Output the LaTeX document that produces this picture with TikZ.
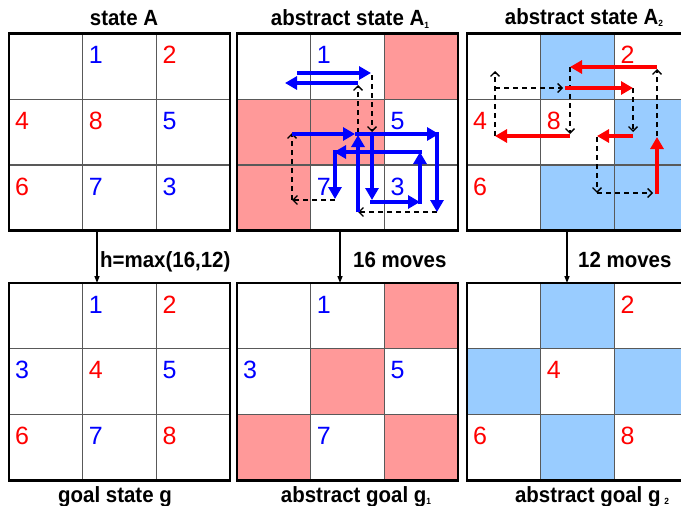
\documentclass[tikz,border=0pt]{standalone}
\usepackage{fontspec}
\setmainfont{Liberation Sans}
\newfontfamily\captionfont{Liberation Sans}[FakeStretch=0.93]
\usetikzlibrary{arrows.meta}

\definecolor{tilered}{RGB}{255,0,0}
\definecolor{tileblue}{RGB}{0,0,255}
\definecolor{pinkcell}{RGB}{255,153,153}
\definecolor{bluecell}{RGB}{153,204,255}

\tikzset{
  gridline/.style={draw=black!65,line width=1.2pt},
  gridframe/.style={draw=black,line width=2.8pt},
  tile/.style={anchor=base west,inner sep=0pt,font=\fontsize{25}{25}\selectfont},
  caption/.style={anchor=base,inner sep=0pt,font=\captionfont\bfseries\fontsize{22}{22}\selectfont},
  bluemove/.style={draw=tileblue,line width=4pt,-{Triangle[length=12pt,width=13pt]}},
  redmove/.style={draw=tilered,line width=4pt,-{Triangle[length=12pt,width=13pt]}},
  blankmove/.style={draw=black,line width=1.3pt,dash pattern=on 5pt off 4pt,-{Straight Barb[length=4.5pt,width=9pt]}},
  mapsto/.style={draw=black,line width=1.3pt,-{Triangle[length=7pt,width=5pt]}}
}

\newcommand{\smallsub}[1]{\raisebox{-2pt}{\fontsize{9}{9}\selectfont #1}}

\begin{document}
\begin{tikzpicture}[x=1pt,y=-1pt]
        \useasboundingbox (0,0) rectangle (681,506);
        \clip (0,0) rectangle (681,506);

        % state A
        \begin{scope}[shift={(9,33.5)}]
          \draw[gridline] (73.7,0) -- (73.7,197.3) (147.3,0) -- (147.3,197.3)
                          (0,65.8) -- (221,65.8) (0,131.5) -- (221,131.5);
          \draw[gridframe] (0,0) rectangle (221,197.3);
          \begin{scope}[every node/.style={tile}]
            \node[tileblue] (s1) at (79.7,30)   {1};
            \node[tilered]  (s2) at (153.3,30)  {2};
            \node[tilered]  (s4) at (6,95.8)    {4};
            \node[tilered]  (s8) at (79.7,95.8) {8};
            \node[tileblue] (s5) at (153.3,95.8) {5};
            \node[tilered]  (s6) at (6,161.6)   {6};
            \node[tileblue] (s7) at (79.7,161.6) {7};
            \node[tileblue] (s3) at (153.3,161.6) {3};
          \end{scope}
        \end{scope}

        % goal state g
        \begin{scope}[shift={(9,283)}]
          \draw[gridline] (73.7,0) -- (73.7,197.3) (147.3,0) -- (147.3,197.3)
                          (0,65.8) -- (221,65.8) (0,131.5) -- (221,131.5);
          \draw[gridframe] (0,0) rectangle (221,197.3);
          \begin{scope}[every node/.style={tile}]
            \node[tileblue] (g1) at (79.7,30)   {1};
            \node[tilered]  (g2) at (153.3,30)  {2};
            \node[tileblue] (g3) at (6,95.8)    {3};
            \node[tilered]  (g4) at (79.7,95.8) {4};
            \node[tileblue] (g5) at (153.3,95.8) {5};
            \node[tilered]  (g6) at (6,161.6)   {6};
            \node[tileblue] (g7) at (79.7,161.6) {7};
            \node[tilered]  (g8) at (153.3,161.6) {8};
          \end{scope}
        \end{scope}

        % abstract state A1
        \begin{scope}[shift={(237,33.5)}]
          \fill[pinkcell] (147.3,0) rectangle (221,65.8);
          \fill[pinkcell] (0,65.8) rectangle (147.3,131.5);
          \fill[pinkcell] (0,131.5) rectangle (73.7,197.3);
          \draw[gridline] (73.7,0) -- (73.7,197.3) (147.3,0) -- (147.3,197.3)
                          (0,65.8) -- (221,65.8) (0,131.5) -- (221,131.5);
          \draw[gridframe] (0,0) rectangle (221,197.3);
          \begin{scope}[every node/.style={tile,tileblue}]
            \node (a1) at (79.7,30)    {1};
            \node (a5) at (153.3,95.8) {5};
            \node (a7) at (79.7,161.6) {7};
            \node (a3) at (153.3,161.6) {3};
          \end{scope}
        \end{scope}

        % abstract goal g1
        \begin{scope}[shift={(237,283)}]
          \fill[pinkcell] (147.3,0) rectangle (221,65.8);
          \fill[pinkcell] (73.7,65.8) rectangle (147.3,131.5);
          \fill[pinkcell] (0,131.5) rectangle (73.7,197.3);
          \fill[pinkcell] (147.3,131.5) rectangle (221,197.3);
          \draw[gridline] (73.7,0) -- (73.7,197.3) (147.3,0) -- (147.3,197.3)
                          (0,65.8) -- (221,65.8) (0,131.5) -- (221,131.5);
          \draw[gridframe] (0,0) rectangle (221,197.3);
          \begin{scope}[every node/.style={tile,tileblue}]
            \node (b1) at (79.7,30)    {1};
            \node (b3) at (6,95.8)     {3};
            \node (b5) at (153.3,95.8) {5};
            \node (b7) at (79.7,161.6) {7};
          \end{scope}
        \end{scope}

        % abstract state A2
        \begin{scope}[shift={(467,33.5)}]
          \fill[bluecell] (73.7,0) rectangle (147.3,65.8);
          \fill[bluecell] (147.3,65.8) rectangle (221,131.5);
          \fill[bluecell] (73.7,131.5) rectangle (221,197.3);
          \draw[gridline] (73.7,0) -- (73.7,197.3) (147.3,0) -- (147.3,197.3)
                          (0,65.8) -- (221,65.8) (0,131.5) -- (221,131.5);
          \draw[gridframe] (0,0) rectangle (221,197.3);
          \begin{scope}[every node/.style={tile,tilered}]
            \node (c2) at (153.3,30)   {2};
            \node (c4) at (6,95.8)     {4};
            \node (c8) at (79.7,95.8)  {8};
            \node (c6) at (6,161.6)    {6};
          \end{scope}
        \end{scope}

        % abstract goal g2
        \begin{scope}[shift={(467,283)}]
          \fill[bluecell] (73.7,0) rectangle (147.3,65.8);
          \fill[bluecell] (0,65.8) rectangle (73.7,131.5);
          \fill[bluecell] (147.3,65.8) rectangle (221,131.5);
          \fill[bluecell] (73.7,131.5) rectangle (147.3,197.3);
          \draw[gridline] (73.7,0) -- (73.7,197.3) (147.3,0) -- (147.3,197.3)
                          (0,65.8) -- (221,65.8) (0,131.5) -- (221,131.5);
          \draw[gridframe] (0,0) rectangle (221,197.3);
          \begin{scope}[every node/.style={tile,tilered}]
            \node (d2) at (153.3,30)   {2};
            \node (d4) at (79.7,95.8)  {4};
            \node (d6) at (6,161.6)    {6};
            \node (d8) at (153.3,161.6) {8};
          \end{scope}
        \end{scope}

        % moves in A1
        \path[blankmove] (372,75) -- (372,132);
        \path[blankmove] (358,133) -- (358,85);
        \path[blankmove] (335,200) -- (292,200);
        \path[blankmove] (292,200) -- (292,133);
        \path[blankmove] (437,212) -- (358,212);
        \path[bluemove] (297,73) -- (371,73);
        \path[bluemove] (358,83) -- (285,83);
        \path[bluemove] (292,134) -- (355,134);
        \path[bluemove] (355,134) -- (439,134);
        \path[bluemove] (437,132) -- (437,212);
        \path[bluemove] (358,212) -- (358,135);
        \path[bluemove] (372,132) -- (372,200);
        \path[bluemove] (370,202) -- (420,202);
        \path[bluemove] (420,204) -- (420,152);
        \path[bluemove] (422,152) -- (334,152);
        \path[bluemove] (335,150) -- (335,199);

        % moves in A2
        \path[blankmove] (657,136) -- (657,69);
        \path[blankmove] (570,67) -- (570,134);
        \path[blankmove] (495,136) -- (495,71);
        \path[blankmove] (495,88) -- (563,88);
        \path[blankmove] (633,88) -- (633,132);
        \path[blankmove] (597,137) -- (597,193);
        \path[blankmove] (597,193) -- (653,193);
        \path[redmove] (657,67) -- (570,67);
        \path[redmove] (565,88) -- (633,88);
        \path[redmove] (570,136) -- (495,136);
        \path[redmove] (633,136) -- (597,136);
        \path[redmove] (657,194) -- (657,137);

        % titles and labels
        \begin{scope}[every node/.style={caption}]
          \node (titleA)  at (124,26) {state A};
          \node (titleA1) at (350,26) {abstract state A\smallsub{1}};
          \node (titleA2) at (584,24) {abstract state A\smallsub{2}};
          \node (goalg)   at (115,502) {goal state g};
          \node (goalg1)  at (356,502) {abstract goal g\smallsub{1}};
          \node (goalg2)  at (592,502) {abstract goal g\,\smallsub{2}};
        \end{scope}

        \begin{scope}[every node/.style={caption,anchor=base west}]
          \node (hmax)   at (100,267) {h=max(16,12)};
          \node (moves1) at (353,267) {16 moves};
          \node (moves2) at (578,267) {12 moves};
        \end{scope}

        \coordinate (fromA)  at (97,231);
        \coordinate (toA)    at (97,283);
        \coordinate (fromA1) at (340,231);
        \coordinate (toA1)   at (340,283);
        \coordinate (fromA2) at (567,231);
        \coordinate (toA2)   at (567,283);
        \path[mapsto] (fromA) -- (toA);
        \path[mapsto] (fromA1) -- (toA1);
        \path[mapsto] (fromA2) -- (toA2);

      \end{tikzpicture}
\end{document}
